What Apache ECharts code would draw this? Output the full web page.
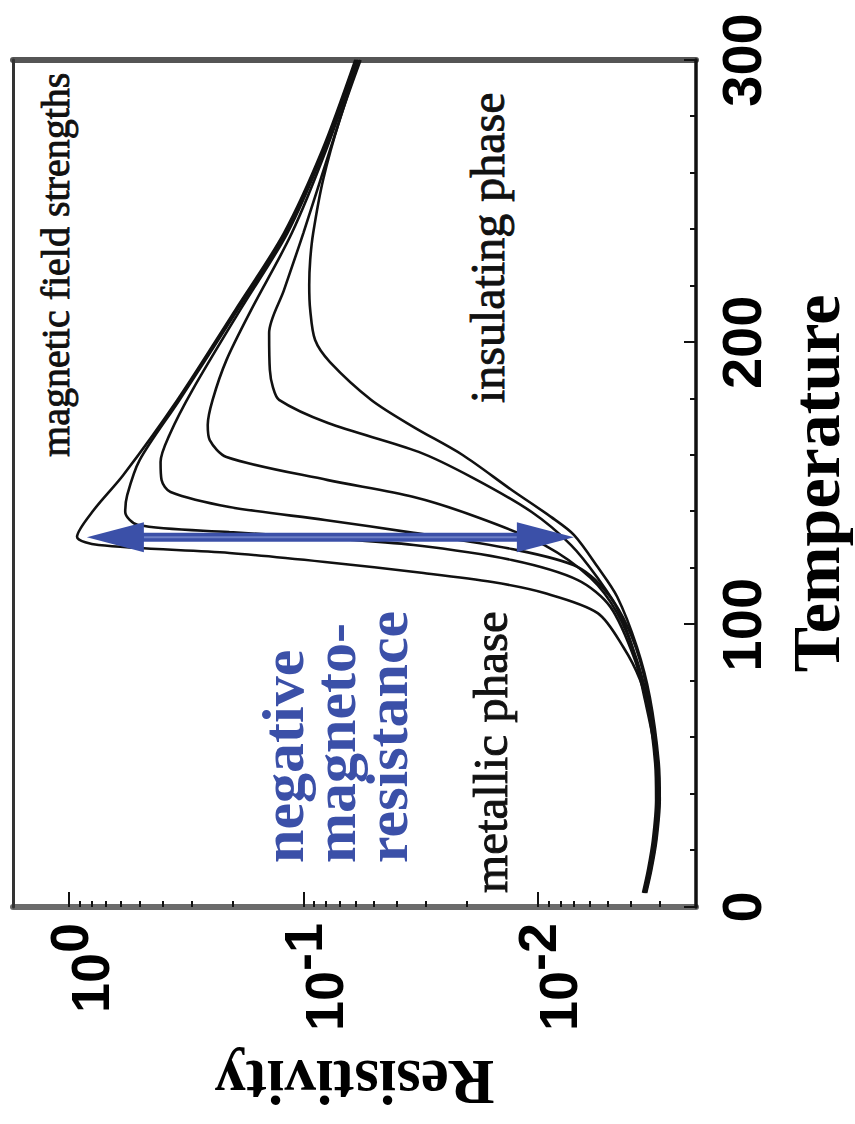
<!DOCTYPE html>
<html>
<head>
<meta charset="utf-8">
<script src="https://cdn.jsdelivr.net/npm/echarts@6/dist/echarts.min.js"></script>
<style>
  html, body { margin: 0; padding: 0; background: #fff; overflow: hidden; width: 855px; height: 1124px; }
  /* the plot is laid out landscape and turned a quarter turn counter-clockwise */
  #chart { position: absolute; left: 0; top: 0; width: 1124px; height: 855px;
           transform-origin: 0 0; transform: translate(0, 1124px) rotate(-90deg); }
</style>
</head>
<body>
<div id="chart"></div>
<script>
// Resistivity versus temperature for increasing magnetic field (H0 = zero field).
const tempH0 = [300, 268.1, 238.7, 211.5, 179.6, 153.0, 140.6, 131.1, 128.2, 125.4, 122.2, 118.3, 115.1, 111.2, 104.1, 92.1, 80.4, 68.7, 51.0, 37.9, 23.7, 13.1, 5.0];
const rhoH0  = [0.0600, 0.0830, 0.121, 0.195, 0.345, 0.587, 0.785, 0.925, 0.748, 0.207, 0.0809, 0.0307, 0.0156, 0.00935, 0.00554, 0.00431, 0.00365, 0.00335, 0.00315, 0.00312, 0.00322, 0.00338, 0.00355];

const tempH1 = [300, 268.1, 238.7, 211.5, 179.6, 158.3, 145.9, 139.9, 135.3, 132.8, 130.7, 128.2, 122.9, 115.8, 106.3, 87.5, 68.7, 51.0, 37.9, 23.7, 13.1, 5.0];
const rhoH1  = [0.0595, 0.0822, 0.119, 0.191, 0.338, 0.500, 0.565, 0.576, 0.508, 0.207, 0.0809, 0.0338, 0.0129, 0.00673, 0.00489, 0.00384, 0.00332, 0.00312, 0.00309, 0.00319, 0.00335, 0.00352];

const tempH2 = [300, 268.1, 238.7, 211.5, 183.0, 167.2, 157.6, 151.2, 147.0, 141.7, 137.1, 132.5, 126.8, 120.4, 109.8, 94.6, 73.3, 51.0, 37.9, 23.7, 13.1, 5.0];
const rhoH2  = [0.0590, 0.0815, 0.117, 0.186, 0.298, 0.373, 0.407, 0.403, 0.369, 0.207, 0.0809, 0.0338, 0.0129, 0.00673, 0.00489, 0.00403, 0.00348, 0.00310, 0.00307, 0.00317, 0.00333, 0.00350];

const tempH3 = [300, 268.1, 238.7, 211.5, 193.7, 179.6, 170.7, 165.4, 159.4, 151.2, 145.2, 137.8, 128.2, 116.5, 104.1, 87.5, 68.7, 51.0, 37.9, 23.7, 13.1, 5.0];
const rhoH3  = [0.0585, 0.0800, 0.112, 0.167, 0.213, 0.244, 0.256, 0.251, 0.213, 0.0785, 0.0338, 0.0177, 0.00935, 0.00593, 0.00457, 0.00377, 0.00330, 0.00308, 0.00305, 0.00315, 0.00331, 0.00348];

const tempH4 = [300, 268.1, 238.7, 218.5, 203.3, 190.2, 184.2, 179.6, 171.4, 161.2, 152.0, 139.9, 128.2, 116.5, 102.4, 87.5, 68.7, 51.0, 37.9, 23.7, 13.1, 5.0];
const rhoH4  = [0.0580, 0.0770, 0.100, 0.121, 0.140, 0.139, 0.135, 0.127, 0.0785, 0.0322, 0.0189, 0.0106, 0.00720, 0.00554, 0.00431, 0.00366, 0.00326, 0.00306, 0.00303, 0.00313, 0.00329, 0.00346];

const tempH5 = [300, 278.8, 257.5, 238.7, 229.2, 220.3, 211.5, 200.8, 193.0, 179.6, 170.0, 160.1, 147.7, 138.1, 131.8, 120.4, 109.8, 92.1, 74.4, 51.0, 37.9, 23.7, 13.1, 5.0];
const rhoH5  = [0.0570, 0.0700, 0.0824, 0.0908, 0.0935, 0.0944, 0.0935, 0.0891, 0.0770, 0.0513, 0.0338, 0.0209, 0.0129, 0.00874, 0.00700, 0.00554, 0.00457, 0.00377, 0.00332, 0.00304, 0.00301, 0.00311, 0.00327, 0.00344];

// axis ranges and ticks
const tempTicks = [0, 100, 200, 300];
const rhoDecades = [0.01, 0.1, 1];
const rhoMinor = [0.003, 0.004, 0.005, 0.006, 0.007, 0.008, 0.009,
                  0.02, 0.03, 0.04, 0.05, 0.06, 0.07, 0.08, 0.09,
                  0.2, 0.3, 0.4, 0.5, 0.6, 0.7, 0.8, 0.9];
const rhoMin = 0.002108;
const rhoMax = 1.736;

// magnetoresistance arrow: temperature, resistivity at both tips
const arrowT = 131;
const arrowRhoHigh = 0.84;
const arrowRhoLow = 0.0070;

// annotation text and anchor (temperature, resistivity at the left end of the text)
const noteText = ['magnetic field strengths', 'insulating phase', 'metallic phase', 'negative\nmagneto-\nresistance'];
const noteT    = [159.4, 178.5, 5.0, 15.6];
const noteRho  = [1.14, 0.0164, 0.0159, 0.0734];

const BLUE = '#3b50a8';
const noteStyle = [
  { fontSize: 40, fontWeight: 'normal', fill: '#111', stroke: 0.9, lineHeight: 46 },
  { fontSize: 48, fontWeight: 'normal', fill: '#111', stroke: 0.9, lineHeight: 52 },
  { fontSize: 49, fontWeight: 'normal', fill: '#111', stroke: 0.9, lineHeight: 52 },
  { fontSize: 60, fontWeight: 'bold', fill: BLUE, stroke: 0, lineHeight: 52 }
];

const curves = [[tempH0, rhoH0], [tempH1, rhoH1], [tempH2, rhoH2], [tempH3, rhoH3], [tempH4, rhoH4], [tempH5, rhoH5]];

const chart = echarts.init(document.getElementById('chart'), null, { renderer: 'svg', width: 1124, height: 855 });

const curveSeries = curves.map(function (c, i) {
  return {
    name: 'H' + i,
    type: 'line',
    xAxisIndex: 0,
    yAxisIndex: 0,
    data: c[0].map(function (t, k) { return [t, c[1][k]]; }),
    showSymbol: false,
    symbol: 'none',
    smooth: 0.3,
    lineStyle: { color: '#111', width: 2.6 },
    z: 3,
    silent: true
  };
});

const arrowSeries = {
  type: 'custom',
  xAxisIndex: 0,
  yAxisIndex: 0,
  data: [[arrowT, arrowRhoHigh, arrowRhoLow]],
  z: 5,
  silent: true,
  renderItem: function (params, api) {
    const a = api.coord([api.value(0), api.value(1)]);
    const b = api.coord([api.value(0), api.value(2)]);
    const headLen = 57, half = 15;
    return {
      type: 'group',
      children: [
        { type: 'line', shape: { x1: a[0], y1: a[1] + headLen * 0.7, x2: b[0], y2: b[1] - headLen * 0.7 },
          style: { stroke: BLUE, lineWidth: 9 } },
        { type: 'line', shape: { x1: a[0], y1: a[1] + headLen, x2: b[0], y2: b[1] - headLen },
          style: { stroke: '#6d7fc6', lineWidth: 2 } },
        { type: 'polygon', shape: { points: [[a[0], a[1]], [a[0] - half, a[1] + headLen], [a[0] + half, a[1] + headLen]] },
          style: { fill: BLUE } },
        { type: 'polygon', shape: { points: [[b[0], b[1]], [b[0] - half, b[1] - headLen], [b[0] + half, b[1] - headLen]] },
          style: { fill: BLUE } }
      ]
    };
  }
};

const noteSeries = {
  type: 'custom',
  xAxisIndex: 0,
  yAxisIndex: 0,
  data: noteText.map(function (t, i) { return [noteT[i], noteRho[i], i]; }),
  z: 6,
  silent: true,
  renderItem: function (params, api) {
    const i = api.value(2);
    const p = api.coord([api.value(0), api.value(1)]);
    const s = noteStyle[i];
    return {
      type: 'text',
      x: p[0],
      y: p[1],
      style: {
        text: noteText[i],
        fontFamily: '"Liberation Serif", "Times New Roman", serif',
        fontSize: s.fontSize,
        fontWeight: s.fontWeight,
        lineHeight: s.lineHeight,
        fill: s.fill,
        stroke: s.stroke ? s.fill : null,
        lineWidth: s.stroke,
        align: 'left',
        verticalAlign: 'middle'
      }
    };
  }
};

const serif = '"Liberation Serif", "Times New Roman", serif';
const sans = '"Liberation Sans", Arial, Helvetica, sans-serif';

chart.setOption({
  animation: false,
  backgroundColor: '#fff',
  grid: { left: 217, right: 60, top: 13, bottom: 148, containLabel: false },
  xAxis: [
    {
      type: 'value', position: 'bottom', min: 0, max: 300, interval: 100,
      axisLine: { show: true, lineStyle: { color: '#111', width: 3.5 } },
      axisTick: { show: true, inside: true, length: 12, lineStyle: { color: '#111', width: 2 } },
      minorTick: { show: true, splitNumber: 5, length: 6, lineStyle: { color: '#111', width: 2 } },
      splitLine: { show: false }, minorSplitLine: { show: false },
      axisLabel: { show: true, fontSize: 56, fontWeight: 'bold', fontFamily: sans, color: '#000', margin: 17,
                   customValues: tempTicks },
      name: 'Temperature', nameLocation: 'middle', nameGap: 86,
      nameTextStyle: { fontFamily: serif, fontWeight: 'bold', fontSize: 68, color: '#000' }
    },
    {
      type: 'value', position: 'top', min: 0, max: 300,
      axisLine: { show: true, lineStyle: { color: '#333', width: 3 } },
      axisTick: { show: false }, axisLabel: { show: false }, splitLine: { show: false }
    }
  ],
  yAxis: [
    {
      type: 'log', logBase: 10, position: 'left', min: rhoMin, max: rhoMax,
      axisLine: { show: true, lineStyle: { color: '#6b6b6b', width: 6 } },
      axisTick: { show: true, inside: true, length: 15, customValues: rhoDecades, lineStyle: { color: '#111', width: 2 } },
      splitLine: { show: false }, minorTick: { show: false },
      axisLabel: {
        show: true, margin: 16, customValues: rhoDecades,
        padding: [20, 0, 0, 0],
        formatter: function (v) {
          return '{b|10}{s|' + Math.round(Math.log10(v)) + '}';
        },
        rich: {
          b: { fontSize: 54, fontWeight: 'bold', fontFamily: sans, color: '#000', verticalAlign: 'bottom' },
          s: { fontSize: 54, fontWeight: 'bold', fontFamily: sans, color: '#000', verticalAlign: 'bottom', padding: [0, 0, 21, 0] }
        }
      },
      name: 'Resistivity', nameLocation: 'middle', nameGap: 143, nameRotate: 90,
      nameTextStyle: { fontFamily: serif, fontWeight: 'bold', fontSize: 63, color: '#000' }
    },
    {
      type: 'log', logBase: 10, position: 'left', min: rhoMin, max: rhoMax,
      axisLine: { show: false },
      axisTick: { show: true, inside: true, length: 6, customValues: rhoMinor, lineStyle: { color: '#111', width: 2 } },
      axisLabel: { show: false }, splitLine: { show: false }
    },
    {
      type: 'log', logBase: 10, position: 'right', min: rhoMin, max: rhoMax,
      axisLine: { show: true, lineStyle: { color: '#555', width: 6 } },
      axisTick: { show: false }, axisLabel: { show: false }, splitLine: { show: false }
    }
  ],
  series: curveSeries.concat([arrowSeries, noteSeries])
});
</script>
</body>
</html>
